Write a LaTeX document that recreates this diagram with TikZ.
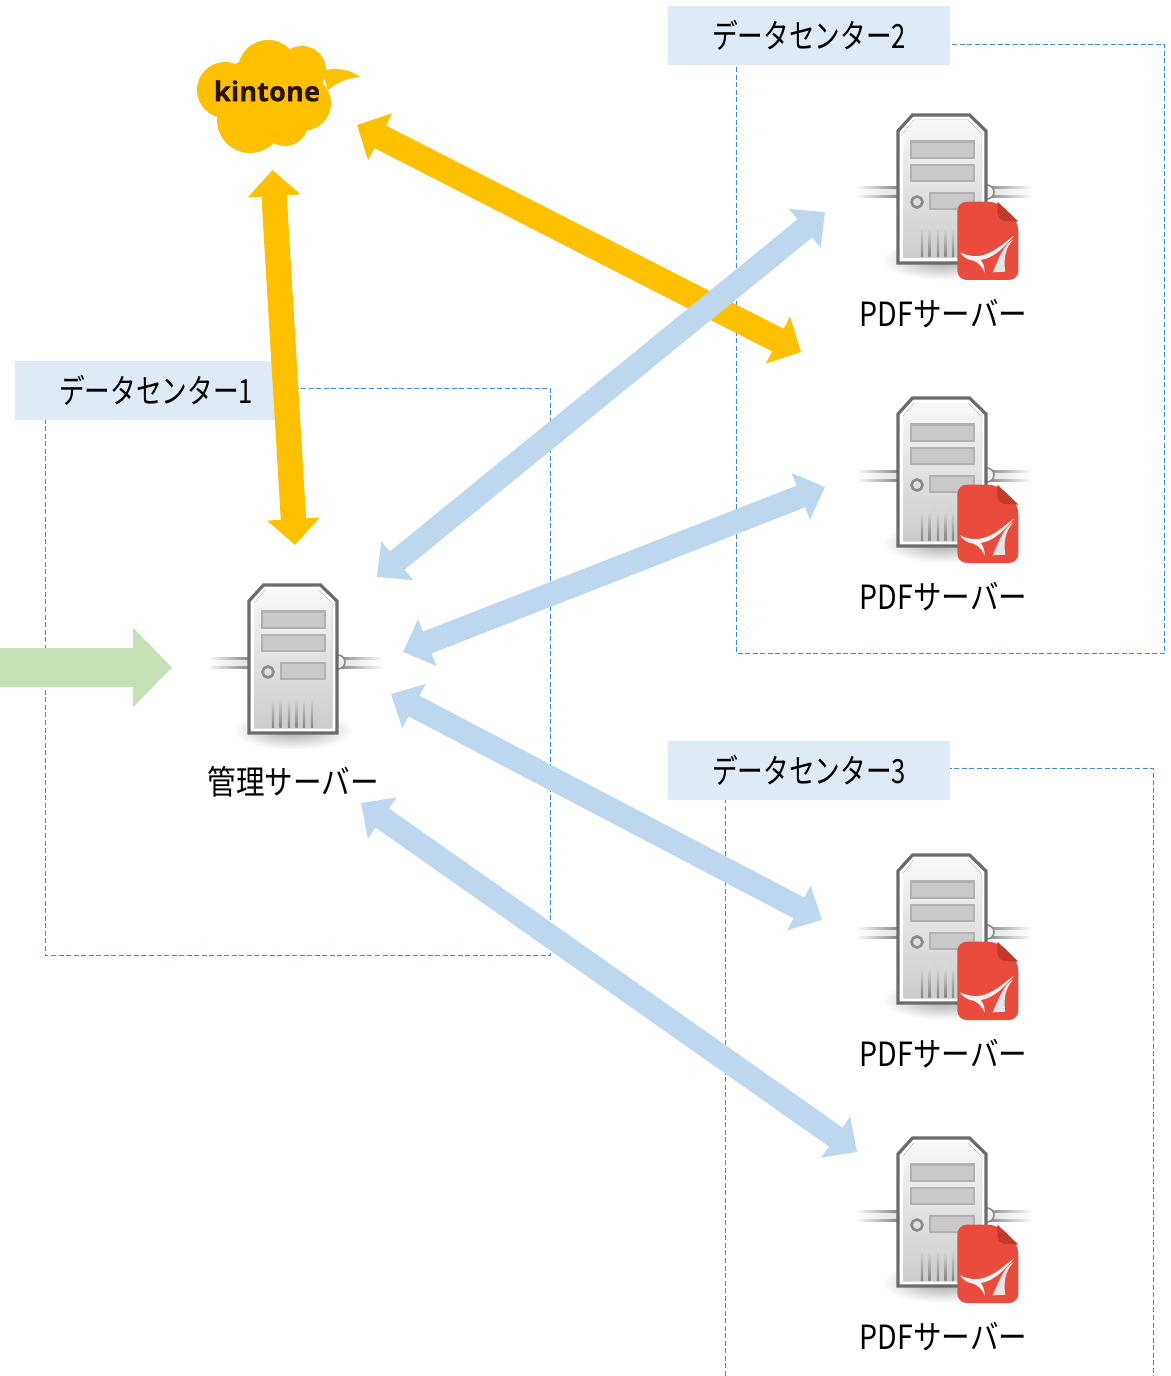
\documentclass[tikz,border=0pt]{standalone}
\usepackage{fontspec}
\newfontfamily\jpzone[FakeStretch=0.77]{Noto Sans CJK JP}
\newfontfamily\jpsrv[FakeStretch=0.857]{Noto Sans CJK JP}
\newfontfamily\kt[BoldFeatures={FakeBold=0.6}]{Open Sans}
\usetikzlibrary{arrows.meta,shadings}
\definecolor{orangeA}{HTML}{FFC000}
\definecolor{blueA}{HTML}{BDD7EE}
\definecolor{greenA}{HTML}{C5E0B4}
\definecolor{labelbg}{HTML}{DEEAF6}
\definecolor{dashc}{HTML}{3A8BD0}
\definecolor{pdfred}{HTML}{E94B3C}
\definecolor{pdfdark}{HTML}{C23A2C}
\definecolor{bayfill}{HTML}{C9C9C9}
\definecolor{bayline}{HTML}{B2B2B2}
\tikzset{
  x=0.75pt,y=-0.75pt,
  zone/.style={draw=dashc,line width=1pt,dash pattern=on 3.75pt off 1.9pt},
  zonelabel/.style={fill=labelbg,minimum width=211.5pt,minimum height=44.25pt,inner sep=0pt,font=\jpzone\fontsize{25}{25}\selectfont},
  srvlabel/.style={inner sep=0pt,font=\jpsrv\fontsize{25}{25}\selectfont},
  orangearrow/.style={draw=orangeA,line width=19pt,{Triangle[length=19.5pt,width=38.5pt]}-{Triangle[length=19.5pt,width=38.5pt]}},
  bluearrow/.style={draw=blueA,line width=17.5pt,{Triangle[length=19.5pt,width=36.5pt]}-{Triangle[length=19.5pt,width=36.5pt]}},
  greenarrow/.style={draw=greenA,line width=29.25pt,-{Triangle[length=29.25pt,width=57.75pt]}},
  server/.pic={
    % soft shadow
    \shade[inner color=black!35,outer color=white] (44,146) ellipse (60 and 20);
    % cables
    \shade[left color=white,right color=black!12] (-42,73) rectangle (2,84);
    \shade[left color=black!12,right color=white] (86,73) rectangle (134,84);
    \shade[left color=white,right color=black!50] (-42,73) rectangle (2,75);
    \shade[left color=white,right color=black!50] (-42,82) rectangle (2,84);
    \shade[left color=black!50,right color=white] (86,73) rectangle (134,75);
    \shade[left color=black!50,right color=white] (86,82) rectangle (134,84);
    \draw[black!45,fill=black!6,line width=1.2pt] (89,78) circle (7);
    % body
    \draw[black!58,line width=2.4pt,fill=white,line join=miter]
      (14.5,1) -- (71.5,1) -- (88,17) -- (88,149) -- (0,149) -- (0,17) -- cycle;
    \fill[top color=black!3,bottom color=black!20]
      (16,6) -- (70,6) -- (83,19) -- (83,144) -- (5,144) -- (5,19) -- cycle;
    % bays
    \draw[bayline,fill=bayfill,line width=2pt] (13,27.5) rectangle (76,44);
    \draw[bayline,fill=bayfill,line width=2pt] (13,51) rectangle (76,67);
    \draw[bayline,fill=bayfill,line width=2pt] (32,79) rectangle (76,95);
    \draw[black!45,fill=black!12,line width=2pt] (19,88) circle (5.5);
    % vents
    \foreach \vx in {24,31.5,40,47.5,55,63}
      \shade[top color=black!14,bottom color=black!48] (\vx-1.2,112) rectangle (\vx+1.2,143);
  },
  pdfserver/.pic={
    \pic {server};
    \begin{scope}[shift={(-58,-14)},scale=1/3]
      \fill[pdfred,rounded corners=7pt] (352,540) -- (352,305) -- (472,305) -- (535,365) -- (535,540) -- cycle;
      \fill[pdfdark] (472,305) -- (535,365) -- (490,362) .. controls (478,358) and (474,350) .. (472,340) -- cycle;
    \end{scope}
    \begin{scope}[shift={(52,81)},scale=1/3]
      \fill[white!95!black] (192,122) .. controls (165,140) and (130,178) .. (85,183)
        .. controls (60,185) and (45,178) .. (30,172)
        .. controls (40,188) and (55,195) .. (70,197)
        .. controls (90,205) and (98,220) .. (104,233)
        .. controls (104,215) and (100,205) .. (92,195)
        .. controls (130,190) and (165,155) .. (192,122) -- cycle;
      \fill[white!90!black] (190,133) .. controls (165,145) and (145,190) .. (128,232)
        -- (166,230) .. controls (160,195) and (165,160) .. (190,133) -- cycle;
    \end{scope}
  }
}
\begin{document}
\begin{tikzpicture}
\useasboundingbox (0,0) rectangle (1170,1376);
\fill[white] (0,0) rectangle (1170,1376);

% data center zones
\draw[zone] (45.5,388.5) rectangle (550.5,955.5);
\draw[zone] (736.5,44.5) rectangle (1164.5,653.5);
\draw[zone] (725.5,1376) -- (725.5,768.5) -- (1153.5,768.5) -- (1153.5,1376);
\node[zonelabel] (dc1) at (156,390.5) {データセンター1};
\node[zonelabel] (dc2) at (809,35.5) {データセンター2};
\node[zonelabel] (dc3) at (809,770.5) {データセンター3};

% servers
\pic at (249,584) {server};
\pic at (898,114) {pdfserver};
\pic at (898,397) {pdfserver};
\pic at (898,854) {pdfserver};
\pic at (898,1137) {pdfserver};
\node[srvlabel] (mgr) at (293,782) {管理サーバー};
\node[srvlabel] (pdf1) at (943.5,314) {PDFサーバー};
\node[srvlabel] (pdf2) at (943.5,597) {PDFサーバー};
\node[srvlabel] (pdf3) at (943.5,1054) {PDFサーバー};
\node[srvlabel] (pdf4) at (943.5,1337) {PDFサーバー};

% kintone cloud
\fill[orangeA] (225,90) circle (28) (268,70) circle (30) (302,70) circle (24)
  (303,103) circle (28) (250,120) circle (33) (285,123) circle (23)
  (250,90) circle (30) (280,95) circle (30);
\fill[orangeA] (322,71) .. controls (335,67) and (350,69) .. (360,77)
  .. controls (346,78) and (337,83) .. (328,90) -- cycle;
\node[inner sep=0pt,text=black!85!orange,font=\kt\bfseries\fontsize{20.5}{20.5}\selectfont] (kin) at (267,91) {kintone};

% end points of the connectors
\coordinate (kinB) at (272.5,170);
\coordinate (mgrT) at (295,545);
\coordinate (kinR) at (357,125);
\coordinate (pdf1O) at (801,352);
\coordinate (mgrA) at (377,577);
\coordinate (pdf1B) at (825,212);
\coordinate (mgrB) at (403,652);
\coordinate (pdf2B) at (825,487);
\coordinate (mgrC) at (391,694);
\coordinate (pdf3B) at (822,920);
\coordinate (mgrD) at (361,803);
\coordinate (pdf4B) at (857,1152);
\coordinate (inL) at (0,667.5);
\coordinate (inR) at (172,667.5);

\draw[orangearrow] (kinB) -- (mgrT);
\draw[orangearrow] (kinR) -- (pdf1O);
\draw[greenarrow] (inL) -- (inR);
\draw[bluearrow] (mgrA) -- (pdf1B);
\draw[bluearrow] (mgrB) -- (pdf2B);
\draw[bluearrow] (mgrC) -- (pdf3B);
\draw[bluearrow] (mgrD) -- (pdf4B);
\end{tikzpicture}
\end{document}
